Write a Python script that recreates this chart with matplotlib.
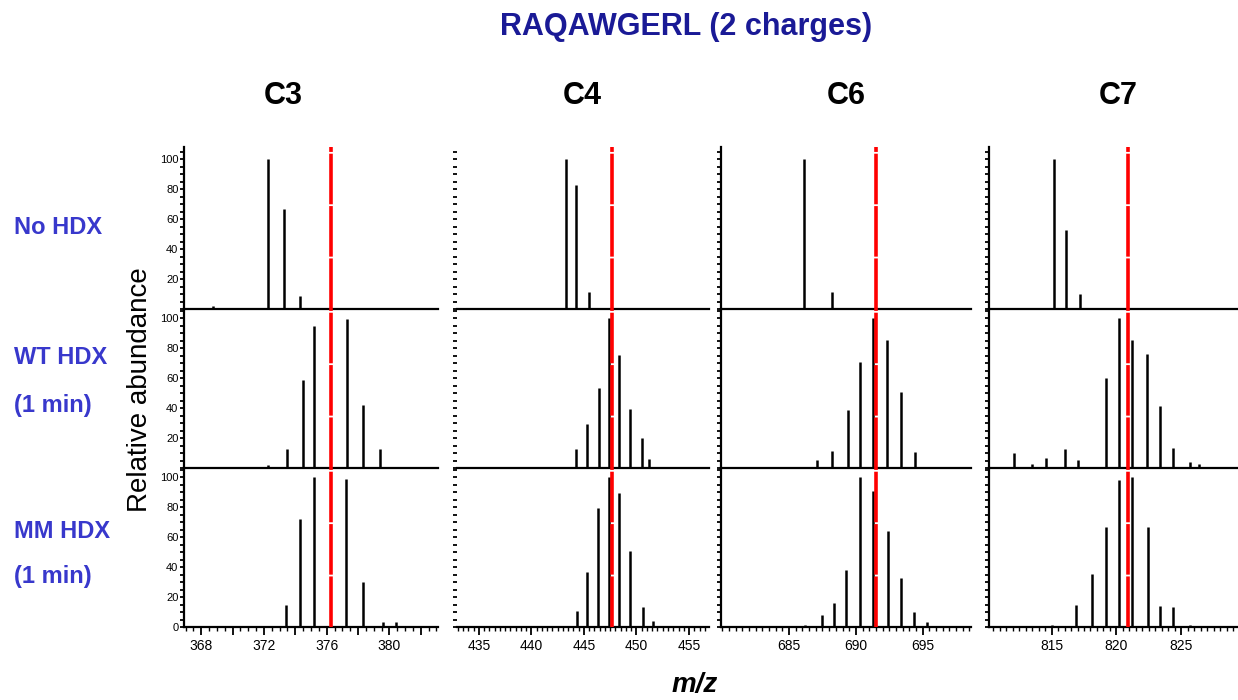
import matplotlib
matplotlib.use('Agg')
import matplotlib.pyplot as plt
from matplotlib.ticker import MultipleLocator, FixedLocator

plt.rcParams['font.family'] = ['Liberation Sans', 'DejaVu Sans']

# peak lists: m/z and relative abundance
c3_nohdx_mz = [368.73, 372.26, 373.28, 374.33]
c3_nohdx_ab = [2.2, 100, 67, 8.9]
c3_wt_mz = [372.28, 373.49, 374.5, 375.2, 377.28, 378.3, 379.37, 380.2]
c3_wt_ab = [2.2, 12.9, 58.9, 94.4, 99.6, 42.2, 12.9, 1.0]
c3_mm_mz = [373.43, 374.33, 375.2, 377.25, 378.3, 379.58, 380.4]
c3_mm_ab = [14.4, 71.8, 100, 98.4, 30, 3.3, 3.3]

c4_nohdx_mz = [443.26, 444.27, 445.45]
c4_nohdx_ab = [100, 82.9, 11.6]
c4_wt_mz = [444.27, 445.29, 446.4, 447.38, 448.33, 449.38, 450.5, 451.2]
c4_wt_ab = [12.8, 29.4, 53.3, 100, 75.2, 39.4, 20.1, 6.2]
c4_mm_mz = [444.37, 445.29, 446.33, 447.38, 448.33, 449.38, 450.6, 451.6]
c4_mm_ab = [10.6, 36.5, 79.6, 100, 89.6, 50.4, 13.3, 4.0]

c6_nohdx_mz = [686.1, 688.2]
c6_nohdx_ab = [100, 11.6]
c6_wt_mz = [687.1, 688.2, 689.38, 690.3, 691.32, 692.3, 693.36, 694.4, 697.0]
c6_wt_ab = [5.5, 11.5, 38.7, 70.6, 100, 85.2, 50.4, 10.6, 0.7]
c6_mm_mz = [686.2, 687.46, 688.34, 689.23, 690.3, 691.32, 692.37, 693.38, 694.38, 695.3, 696.5]
c6_mm_ab = [1.1, 7.7, 15.9, 37.8, 100, 90.7, 63.7, 32.5, 10, 3.3, 0.5]

c7_nohdx_mz = [815.15, 816.15, 817.2, 818.25, 824.0, 826.7, 827.8]
c7_nohdx_ab = [100, 52.5, 10.3, 0.7, 0.7, 0.7, 0.7]
c7_wt_mz = [812.1, 813.5, 814.56, 816.05, 817.0, 819.18, 820.23, 821.2, 822.38, 823.33, 824.33, 825.64, 826.38]
c7_wt_ab = [10, 2.9, 6.6, 12.6, 5.3, 60, 100, 85.6, 76.3, 41.4, 13.3, 4.2, 2.9]
c7_mm_mz = [815.0, 816.87, 818.1, 819.18, 820.23, 821.18, 822.4, 823.33, 824.38, 825.7]
c7_mm_ab = [1.5, 14.4, 35.1, 66.7, 97.8, 100, 66.7, 13.8, 13.1, 1.5]

columns = ['C3', 'C4', 'C6', 'C7']
ref_mz = [376.27, 447.7, 691.5, 820.87]
x_ranges = [(366.9, 383.1), (432.9, 456.9), (679.9, 698.6), (810.15, 829.3)]
x_labels = [[368, 372, 376, 380], [435, 440, 445, 450, 455], [685, 690, 695], [815, 820, 825]]

spectra = [
    [(c3_nohdx_mz, c3_nohdx_ab), (c3_wt_mz, c3_wt_ab), (c3_mm_mz, c3_mm_ab)],
    [(c4_nohdx_mz, c4_nohdx_ab), (c4_wt_mz, c4_wt_ab), (c4_mm_mz, c4_mm_ab)],
    [(c6_nohdx_mz, c6_nohdx_ab), (c6_wt_mz, c6_wt_ab), (c6_mm_mz, c6_mm_ab)],
    [(c7_nohdx_mz, c7_nohdx_ab), (c7_wt_mz, c7_wt_ab), (c7_mm_mz, c7_mm_ab)],
]

W, H = 1238, 700
fig = plt.figure(figsize=(W / 100, H / 100), dpi=100)

col_px = [(184, 438), (456.7, 709), (721, 970.7), (988.7, 1237)]
row_px = [(147, 309), (309, 468), (468, 627)]
title_x = [283, 582, 846, 1118]

for c in range(4):
    for r in range(3):
        x0, x1 = col_px[c]
        y0, y1 = row_px[r]
        ax = fig.add_axes([x0 / W, 1 - y1 / H, (x1 - x0) / W, (y1 - y0) / H])
        ax.patch.set_alpha(0)
        mz, ab = spectra[c][r]
        ax.vlines(mz, 0, ab, color='black', lw=1.8)
        ax.axvline(ref_mz[c], color='#ff0000', lw=2.6, dashes=(14, 0.5), zorder=5)
        ax.set_xlim(*x_ranges[c])
        ax.set_ylim(0, 106 if r else 108)
        for s in ['top', 'right']:
            ax.spines[s].set_visible(False)
        ax.spines['bottom'].set_linewidth(1.6)
        ax.spines['left'].set_linewidth(1.6)
        if c == 1:
            ax.spines['left'].set_visible(False)

        # y ticks
        if r == 2:
            ax.yaxis.set_major_locator(FixedLocator([0, 20, 40, 60, 80, 100]))
        else:
            ax.yaxis.set_major_locator(FixedLocator([20, 40, 60, 80, 100]))
        ax.yaxis.set_minor_locator(MultipleLocator(5))
        ax.tick_params(axis='y', which='both', direction='out', length=3, width=1.3,
                       labelsize=8, pad=1)
        if c != 0:
            ax.tick_params(axis='y', labelleft=False)

        # x ticks only on the bottom row
        if r == 2:
            if c == 0:
                ax.xaxis.set_major_locator(MultipleLocator(2))
                ax.xaxis.set_minor_locator(MultipleLocator(0.5))
                ax.xaxis.set_major_formatter(
                    plt.FuncFormatter(lambda v, p: '%d' % v if round(v) % 4 == 0 else ''))
            else:
                ax.xaxis.set_major_locator(FixedLocator(x_labels[c]))
                ax.xaxis.set_minor_locator(MultipleLocator(0.5))
            ax.tick_params(axis='x', which='major', direction='out', length=6, width=1.3,
                           labelsize=10, pad=3)
            ax.tick_params(axis='x', which='minor', direction='out', length=3, width=1.0)
        else:
            ax.tick_params(axis='x', which='both', bottom=False, labelbottom=False)

    fig.text(title_x[c] / W, 1 - 96 / H, columns[c],
             ha='center', va='center', fontsize=22, fontweight='bold')

fig.text(686 / W, 1 - 27 / H, 'RAQAWGERL (2 charges)', ha='center', va='center',
         fontsize=22, fontweight='bold', color='#1a1a96')

label_color = '#3838cc'
row_labels = [('No HDX', 228), ('WT HDX', 357), ('(1 min)', 405),
              ('MM HDX', 531), ('(1 min)', 577)]
for txt, yy in row_labels:
    fig.text(14 / W, 1 - yy / H, txt, ha='left', va='center', fontsize=17,
             fontweight='bold', color=label_color)

fig.text(140 / W, 1 - 390 / H, 'Relative abundance', rotation=90, ha='center',
         va='center', fontsize=20)
fig.text(695 / W, 1 - 685 / H, 'm/z', ha='center', va='center', fontsize=20,
         fontweight='bold', fontstyle='italic')

fig.savefig('out.png', dpi=100)
